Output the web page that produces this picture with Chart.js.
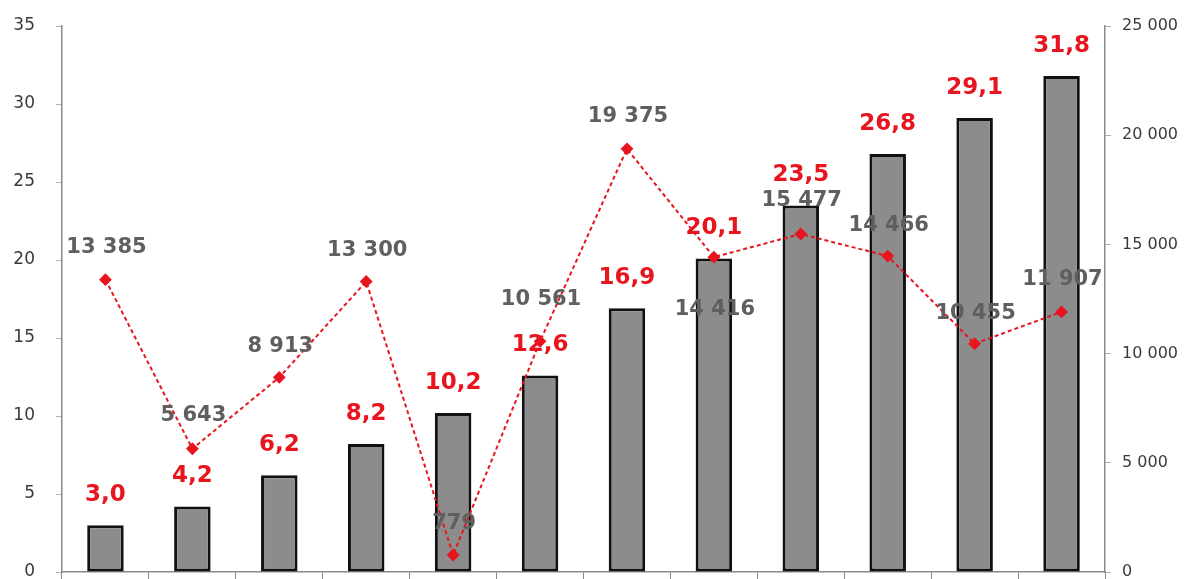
<!DOCTYPE html>
<html>
<head>
<meta charset="utf-8">
<script src="https://cdn.jsdelivr.net/npm/chart.js@4.4.1/dist/chart.umd.min.js"></script>
<style>
  html, body { margin: 0; padding: 0; background: #fff; }
  #wrap { width: 1203px; height: 579px; }
</style>
</head>
<body>
<div id="wrap"><canvas id="chart"></canvas></div>
<script>
// Categories (no visible axis labels in the source)
const categories = ['1', '2', '3', '4', '5', '6', '7', '8', '9', '10', '11', '12'];
// Bars, left axis
const barValues = [3.0, 4.2, 6.2, 8.2, 10.2, 12.6, 16.9, 20.1, 23.5, 26.8, 29.1, 31.8];
// Dashed line, right axis
const lineValues = [13385, 5643, 8913, 13300, 779, 10561, 19375, 14416, 15477, 14466, 10455, 11907];

const leftTicks = [0, 5, 10, 15, 20, 25, 30, 35];
const rightTicks = [0, 5000, 10000, 15000, 20000, 25000];

const RED = '#e8141e';
const GREY_TEXT = '#5f5f5f';
const FONT = '"DejaVu Sans", Verdana, sans-serif';

// vertical nudge of the grey labels (most sit above the point, one below)
const lineLabelShift = [-32, -33, -31, -31, -31, -42, -32, 52, -33, -31, -30, -32];

const fmtThousands = v => String(Math.round(v)).replace(/\B(?=(\d{3})+(?!\d))/g, ' ');

// Draws the value labels on top of the bars and next to the points
const valueLabels = {
  id: 'valueLabels',
  afterDatasetsDraw(chart) {
    const ctx = chart.ctx;
    const barMeta = chart.getDatasetMeta(0);
    const lineMeta = chart.getDatasetMeta(1);
    ctx.save();
    ctx.textAlign = 'center';
    ctx.textBaseline = 'middle';

    ctx.font = 'bold 21px ' + FONT;
    ctx.fillStyle = GREY_TEXT;
    lineMeta.data.forEach((pt, i) => {
      ctx.fillText(fmtThousands(lineValues[i]), pt.x + 1, pt.y + lineLabelShift[i]);
    });

    ctx.font = 'bold 23px ' + FONT;
    ctx.fillStyle = RED;
    barMeta.data.forEach((bar, i) => {
      ctx.fillText(barValues[i].toFixed(1).replace('.', ','), bar.x, bar.y - 30);
    });
    ctx.restore();
  }
};

// drop the half-label overflow so the plot area reaches the canvas edge
const noOverflow = s => { s.paddingTop = 0; s.paddingBottom = 0; };

new Chart(document.getElementById('chart').getContext('2d'), {
  data: {
    labels: categories,
    datasets: [
      {
        type: 'bar',
        data: barValues,
        yAxisID: 'y',
        backgroundColor: '#8c8c8c',
        borderColor: '#111',
        borderWidth: 3,
        borderSkipped: false,
        categoryPercentage: 1,
        barPercentage: 0.42,
        order: 2
      },
      {
        type: 'line',
        data: lineValues,
        yAxisID: 'y2',
        borderColor: RED,
        borderWidth: 2,
        borderDash: [4, 3],
        pointStyle: 'rectRot',
        pointRadius: 5,
        pointBackgroundColor: RED,
        pointBorderColor: RED,
        tension: 0,
        order: 1
      }
    ]
  },
  options: {
    responsive: true,
    maintainAspectRatio: false,
    animation: false,
    layout: { padding: { top: 26, right: 0, left: 0, bottom: 0 } },
    plugins: {
      legend: { display: false },
      tooltip: { enabled: false }
    },
    scales: {
      x: {
        offset: true,
        grid: { offset: true, drawOnChartArea: false, tickLength: 7, color: '#8a8a8a' },
        border: { color: '#8a8a8a', width: 1.5 },
        ticks: { display: false },
        afterFit: s => { s.height = 7; }
      },
      y: {
        position: 'left',
        min: 0,
        max: 35,
        afterBuildTicks: s => { s.ticks = leftTicks.map(v => ({ value: v })); },
        grid: { drawOnChartArea: false, tickLength: 6, color: '#b0b0b0' },
        border: { color: '#8a8a8a', width: 1.5 },
        ticks: { color: '#3a3a3a', font: { family: FONT, size: 17 }, padding: 21 },
        afterFit: s => { s.width = 62; noOverflow(s); }
      },
      y2: {
        position: 'right',
        min: 0,
        max: 25000,
        afterBuildTicks: s => { s.ticks = rightTicks.map(v => ({ value: v })); },
        grid: { drawOnChartArea: false, tickLength: 6, color: '#b0b0b0' },
        border: { color: '#8a8a8a', width: 1.5 },
        ticks: { color: '#3a3a3a', font: { family: FONT, size: 16 }, padding: 11, callback: v => fmtThousands(v) },
        afterFit: s => { s.width = 98; noOverflow(s); }
      }
    }
  },
  plugins: [valueLabels]
});
</script>
</body>
</html>
